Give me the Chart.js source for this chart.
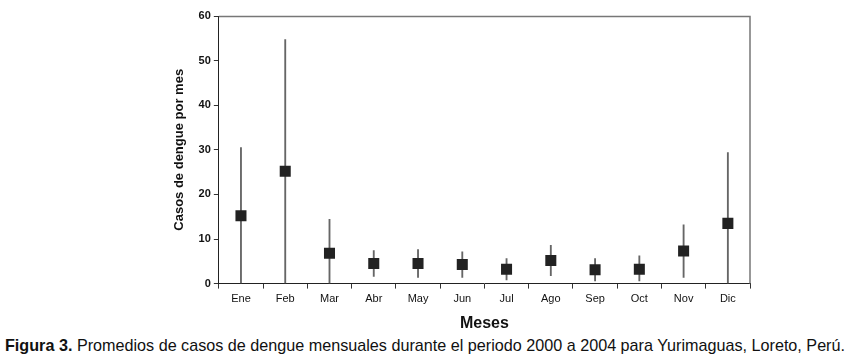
<!DOCTYPE html>
<html>
<head>
<meta charset="utf-8">
<script src="https://cdn.jsdelivr.net/npm/chart.js@4/dist/chart.umd.min.js"></script>
<style>
  html, body { margin: 0; padding: 0; background: #fff; }
  #wrap { position: relative; width: 850px; height: 361px; }
  #c { position: absolute; left: 0; top: 0; }
  #caption { position: absolute; left: 5px; top: 336px; white-space: nowrap;
    font-family: "Liberation Sans", Arial, sans-serif; transform-origin: 0 0;
    font-size: 17px; color: #111; }
  #caption b { font-weight: bold; }
</style>
</head>
<body>
<div id="wrap">
  <canvas id="c" width="850" height="333"></canvas>
  <div id="caption"><b>Figura 3.</b> Promedios de casos de dengue mensuales durante el periodo 2000 a 2004 para Yurimaguas, Loreto, Perú.</div>
</div>
<script>
const months = ["Ene","Feb","Mar","Abr","May","Jun","Jul","Ago","Sep","Oct","Nov","Dic"];
const meanCases = [15.2, 25.2, 6.8, 4.5, 4.5, 4.3, 3.2, 5.2, 3.1, 3.2, 7.3, 13.5];
const lowCases  = [0, 0, 0, 1.6, 1.4, 1.4, 0.8, 1.8, 0.6, 0.6, 1.4, 0];
const highCases = [30.5, 54.7, 14.4, 7.4, 7.6, 7.1, 5.6, 8.6, 5.6, 6.2, 13.2, 29.4];
const yTicks = [0, 10, 20, 30, 40, 50, 60];

const cap = document.getElementById('caption');
const w = cap.getBoundingClientRect().width;
cap.style.transform = 'scaleX(' + (840 / w) + ')';

const frame = {
  id: 'frame',
  afterDraw(chart) {
    const {ctx, chartArea: a} = chart;
    ctx.save();
    ctx.strokeStyle = '#777';
    ctx.lineWidth = 1.5;
    ctx.beginPath();
    ctx.moveTo(a.left, a.top + 0.5);
    ctx.lineTo(a.right, a.top + 0.5);
    ctx.lineTo(a.right, a.bottom);
    ctx.stroke();
    ctx.restore();
  }
};

new Chart(document.getElementById('c'), {
  data: {
    labels: months,
    datasets: [
      {
        type: 'line',
        data: meanCases,
        showLine: false,
        pointStyle: 'rect',
        pointRadius: 7.8,
        pointBackgroundColor: '#222',
        pointBorderColor: '#222',
        pointBorderWidth: 0,
        order: 0
      },
      {
        type: 'bar',
        data: months.map((m, i) => [lowCases[i], highCases[i]]),
        backgroundColor: '#666',
        borderWidth: 0,
        barThickness: 1.2,
        order: 1
      }
    ]
  },
  options: {
    responsive: false,
    animation: false,
    layout: { padding: { left: 172, right: 100, top: 16, bottom: 0 } },
    plugins: { legend: { display: false }, tooltip: { enabled: false } },
    scales: {
      x: {
        type: 'category',
        offset: true,
        grid: { display: true, drawOnChartArea: false, offset: true, tickLength: 5, color: '#333' },
        border: { color: '#222', width: 1 },
        ticks: { color: '#111', font: { family: "Liberation Sans, Arial", size: 11 }, padding: 4 },
        title: { display: true, text: 'Meses', color: '#111', font: { family: "Liberation Sans, Arial", size: 16, weight: 'bold' }, padding: { top: 4, bottom: 0 } }
      },
      y: {
        min: 0, max: 60,
        afterBuildTicks(axis) { axis.ticks = yTicks.map(v => ({ value: v })); },
        grid: { display: true, drawOnChartArea: false, tickLength: 5, color: '#333' },
        border: { color: '#222', width: 1 },
        ticks: { color: '#111', font: { family: "Liberation Sans, Arial", size: 11, weight: 'bold' }, padding: 3 },
        title: { display: true, text: 'Casos de dengue por mes', color: '#111', font: { family: "Liberation Sans, Arial", size: 13, weight: 'bold' }, padding: { top: 0, bottom: 8 } }
      }
    }
  },
  plugins: [frame]
});
</script>
</body>
</html>
